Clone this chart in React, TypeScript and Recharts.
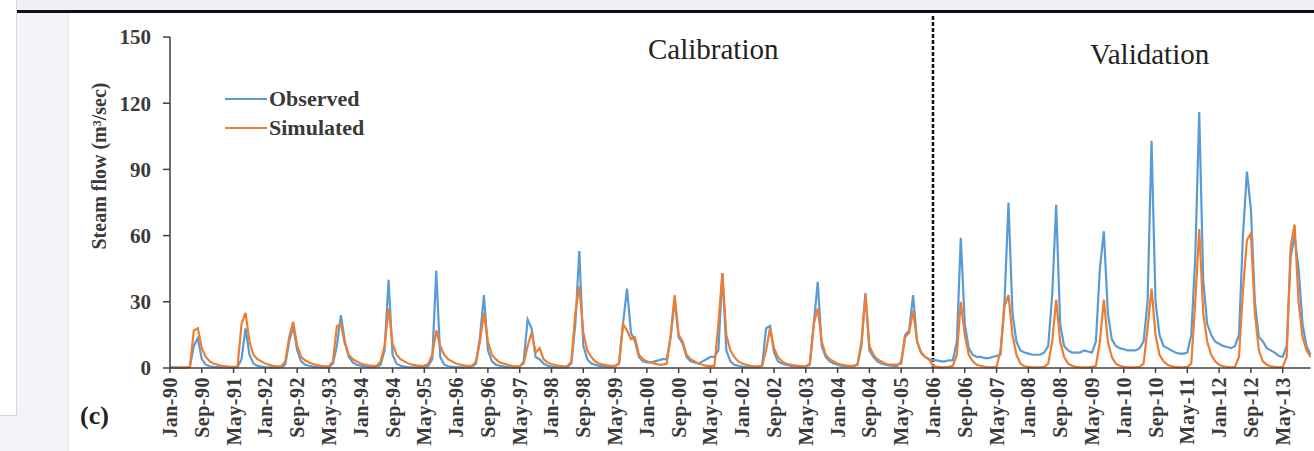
import React from 'react';
import { LineChart, Line, XAxis, YAxis, ReferenceLine, Legend } from 'recharts';

const MONTH_NAMES = ['Jan', 'Feb', 'Mar', 'Apr', 'May', 'Jun', 'Jul', 'Aug', 'Sep', 'Oct', 'Nov', 'Dec'];
const YEARS = Array.from({ length: 24 }, (_, i) => 1990 + i);
const CATEGORIES: string[] = YEARS.flatMap((y) => MONTH_NAMES.map((m) => `${m}-${String(y % 100).padStart(2, '0')}`));

// Observed stream flow (m3/sec), monthly Jan-90 .. Dec-13
const OBSERVED: number[] = [
  0.3, 0.3, 0.2, 0.2, 0.2, 0.5, 10, 13.5, 4, 1.5, 0.8, 0.5, // 1990
  0.4, 0.3, 0.3, 0.2, 0.2, 0.5, 4, 18, 6, 2, 1, 0.6, // 1991
  0.4, 0.3, 0.3, 0.2, 0.3, 1.5, 12, 19, 8, 3, 1.5, 1, // 1992
  0.6, 0.4, 0.3, 0.3, 0.4, 2, 10, 24, 12, 5, 2.5, 1.5, // 1993
  1, 0.7, 0.5, 0.4, 0.5, 1.5, 8, 40, 6, 2, 1, 0.6, // 1994
  0.4, 0.3, 0.3, 0.3, 0.4, 1, 4, 44, 5, 1.5, 0.8, 0.5, // 1995
  0.4, 0.3, 0.3, 0.3, 0.5, 2, 14, 33, 8, 3, 1.5, 1, // 1996
  0.6, 0.4, 0.3, 0.3, 0.5, 3, 22, 18, 5, 4, 2, 1, // 1997
  0.6, 0.4, 0.3, 0.3, 0.4, 2, 20, 53, 10, 4, 2, 1.5, // 1998
  1, 0.8, 0.6, 0.6, 0.8, 2, 20, 36, 16, 12, 5, 3, // 1999
  2.5, 2.5, 3, 3.5, 4, 4, 14, 31, 14, 11, 5, 3, // 2000
  2.5, 2, 3, 4, 5, 5, 8, 43, 8, 3, 1.5, 1, // 2001
  0.6, 0.4, 0.3, 0.3, 0.4, 1, 18, 19, 7, 3, 2, 1.5, // 2002
  1, 0.7, 0.6, 0.5, 0.6, 1.5, 20, 39, 10, 5, 3, 2, // 2003
  1.5, 1, 0.8, 0.7, 0.8, 1.5, 10, 34, 8, 5, 3, 2, // 2004
  1.5, 1.2, 1, 1, 3, 15, 17, 33, 12, 7, 5, 4, // 2005
  3.5, 3.5, 3, 3, 3.5, 3.5, 12, 59, 20, 9, 6, 5, // 2006
  5, 4.5, 4.5, 5, 5.5, 6, 30, 75, 25, 12, 8, 7, // 2007
  6.5, 6, 6, 6, 7, 10, 33, 74, 20, 10, 8, 7, // 2008
  7, 7, 8, 7.5, 7, 12, 45, 62, 25, 13, 10, 9, // 2009
  8.5, 8, 8, 8, 9, 12, 30, 103, 30, 15, 10, 9, // 2010
  8, 7, 6.5, 6.5, 7, 15, 50, 116, 40, 20, 15, 12, // 2011
  11, 10, 9.5, 9, 10, 15, 60, 89, 72, 30, 14, 12, // 2012
  9, 8, 7, 5.5, 5, 10, 50, 60, 45, 20, 10, 6, // 2013
];

// Simulated stream flow (m3/sec), monthly Jan-90 .. Dec-13
const SIMULATED: number[] = [
  0.3, 0.2, 0.2, 0.2, 0.2, 0.5, 17, 18, 9, 5, 3, 2, // 1990
  1.5, 1, 0.8, 0.6, 0.5, 0.8, 20, 25, 12, 6, 4, 3, // 1991
  2, 1.5, 1, 0.8, 0.8, 3, 14, 21, 10, 5, 3.5, 2.5, // 1992
  1.8, 1.3, 1, 0.8, 0.8, 3, 19, 20, 11, 6, 4, 3, // 1993
  2, 1.5, 1.2, 1, 1, 3, 10, 27, 11, 6, 4, 3, // 1994
  2, 1.5, 1.2, 1, 1, 2, 6, 17, 10, 6, 4, 3, // 1995
  2, 1.5, 1.2, 1, 1, 3, 12, 25, 12, 6, 4, 2.5, // 1996
  2, 1.5, 1, 0.8, 0.8, 2, 10, 16, 7, 9, 4, 2.5, // 1997
  1.8, 1.3, 1, 0.8, 0.8, 3, 25, 37, 16, 8, 5, 3, // 1998
  2, 1.5, 1.2, 1, 1, 2, 20, 17, 13, 14, 6, 4, // 1999
  3, 2.5, 2, 1.5, 1.5, 2, 15, 33, 15, 12, 6, 4, // 2000
  3, 2, 1.5, 1, 1, 1, 20, 43, 15, 8, 5, 3, // 2001
  2, 1.5, 1, 0.8, 0.8, 1, 8, 18, 9, 5, 3, 2, // 2002
  1.5, 1.2, 1, 0.8, 0.8, 2, 20, 27, 12, 6, 4, 3, // 2003
  2, 1.5, 1.2, 1, 1, 1.5, 12, 33, 10, 6, 4, 3, // 2004
  2, 1.5, 1.5, 1.5, 2, 14, 16, 26, 12, 7, 5, 4, // 2005
  1, 0.5, 0.3, 0.3, 0.5, 1, 6, 30, 15, 6, 3, 1.5, // 2006
  1, 0.5, 0.3, 0.3, 0.5, 8, 28, 33, 15, 6, 2, 0.8, // 2007
  0.5, 0.3, 0.3, 0.3, 0.5, 2, 12, 31, 12, 5, 2, 1, // 2008
  0.5, 0.3, 0.3, 0.3, 0.5, 1, 12, 31, 12, 5, 2, 1, // 2009
  0.5, 0.3, 0.3, 0.3, 0.5, 2, 18, 36, 15, 6, 3, 1.5, // 2010
  0.8, 0.5, 0.3, 0.3, 0.5, 2, 30, 63, 25, 12, 6, 3, // 2011
  1.5, 0.8, 0.5, 0.3, 0.5, 5, 35, 58, 61, 25, 8, 3, // 2012
  1.5, 0.8, 0.5, 0.3, 0.5, 5, 55, 65, 30, 14, 8, 5, // 2013
];

const Y_TICKS = [0, 30, 60, 90, 120, 150];
const SPLIT_CATEGORY = 'Jan-06';

const SERIES = [
  { key: 'observed', name: 'Observed', color: '#5B9BD5' },
  { key: 'simulated', name: 'Simulated', color: '#ED7D31' },
];

const DATA = CATEGORIES.map((c, i) => ({ month: c, observed: OBSERVED[i], simulated: SIMULATED[i] }));

const SERIF = '"Liberation Serif", "Times New Roman", serif';
const TEXT = '#3a3a3a';

const XTick = (props: any) => {
  const { x, y, payload } = props;
  return (
    <text
      x={x}
      y={y}
      transform={`rotate(-90 ${x} ${y})`}
      textAnchor="end"
      dy="0.35em"
      fontFamily={SERIF}
      fontWeight={700}
      fontSize={20}
      letterSpacing={0.5}
      fill={TEXT}
    >
      {payload.value}
    </text>
  );
};

const YLabel = () => (
  <text
    x={99}
    y={166}
    transform="rotate(-90 99 166)"
    textAnchor="middle"
    dominantBaseline="central"
    fontFamily={SERIF}
    fontWeight={700}
    fontSize={20}
    fill={TEXT}
  >
    Steam flow (m³/sec)
  </text>
);

const LegendContent = () => (
  <div style={{ fontFamily: SERIF, fontWeight: 700, fontSize: 22, color: TEXT, lineHeight: '28.5px' }}>
    {SERIES.map((s) => (
      <div key={s.key} style={{ display: 'flex', alignItems: 'center', whiteSpace: 'nowrap' }}>
        <span style={{ display: 'inline-block', width: 42, height: 2, background: s.color, marginRight: 2 }} />
        <span>{s.name}</span>
      </div>
    ))}
  </div>
);

export default function App() {
  return (
    <div style={{ position: 'absolute', left: 0, top: 0, width: 1314, height: 451, overflow: 'hidden', background: '#fff' }}>
      {/* page frame */}
      <div style={{ position: 'absolute', left: 0, top: 0, width: 16, height: 415, borderRight: '1px solid #d9d9dd', background: '#fff' }} />
      <div style={{ position: 'absolute', left: 0, top: 415, width: 17, height: 36, borderTop: '1px solid #d4d4d8', background: '#f3f4f7' }} />
      <div style={{ position: 'absolute', left: 17, top: 0, width: 1297, height: 10, background: '#eef0f4' }} />
      <div style={{ position: 'absolute', left: 17, top: 10, width: 1297, height: 3, background: '#111' }} />
      <div style={{ position: 'absolute', left: 17, top: 13, width: 51, height: 438, background: '#f3f4f7' }} />
      <div style={{ position: 'absolute', left: 68, top: 13, width: 1, height: 438, background: '#e4e4e8' }} />

      <div style={{ position: 'absolute', left: 0, top: 0 }}>
        <LineChart width={1314} height={451} data={DATA} margin={{ top: 37, right: 3.5, left: 110, bottom: 0 }}>
          <XAxis
            dataKey="month"
            interval={7}
            height={83}
            tick={<XTick />}
            tickSize={5}
            tickMargin={4}
            axisLine={{ stroke: '#404040', strokeWidth: 1.5 }}
            tickLine={{ stroke: '#404040', strokeWidth: 1.5 }}
          />
          <YAxis
            type="number"
            domain={[0, 150]}
            ticks={Y_TICKS}
            width={60}
            tickSize={7}
            tickMargin={12}
            axisLine={{ stroke: '#404040', strokeWidth: 1.5 }}
            tickLine={{ stroke: '#404040', strokeWidth: 1.5 }}
            tick={{ fontFamily: SERIF, fontWeight: 700, fontSize: 21, fill: TEXT }}
            label={YLabel}
          />
          <ReferenceLine
            segment={[{ x: SPLIT_CATEGORY, y: 0 }, { x: SPLIT_CATEGORY, y: 160 }]}
            ifOverflow="visible"
            stroke="#111"
            strokeWidth={2.5}
            strokeDasharray="4 2"
          />
          <Legend
            layout="vertical"
            align="center"
            verticalAlign="middle"
            content={<LegendContent />}
            wrapperStyle={{ position: 'absolute', left: 225, top: 85, width: 200, height: 60 }}
          />
          {SERIES.map((s) => (
            <Line
              key={s.key}
              type="linear"
              dataKey={s.key}
              name={s.name}
              stroke={s.color}
              strokeWidth={2.2}
              dot={false}
              activeDot={false}
              isAnimationActive={false}
            />
          ))}
        </LineChart>
      </div>

      <div style={{ position: 'absolute', left: 648, top: 33, fontFamily: SERIF, fontSize: 29, color: '#222', whiteSpace: 'nowrap', lineHeight: '32px' }}>
        Calibration
      </div>
      <div style={{ position: 'absolute', left: 1090, top: 38, fontFamily: SERIF, fontSize: 29, color: '#222', whiteSpace: 'nowrap', lineHeight: '32px' }}>
        Validation
      </div>
      <div style={{ position: 'absolute', left: 80, top: 401, fontFamily: SERIF, fontWeight: 700, fontSize: 26, color: '#222', lineHeight: '30px' }}>
        (c)
      </div>
    </div>
  );
}
